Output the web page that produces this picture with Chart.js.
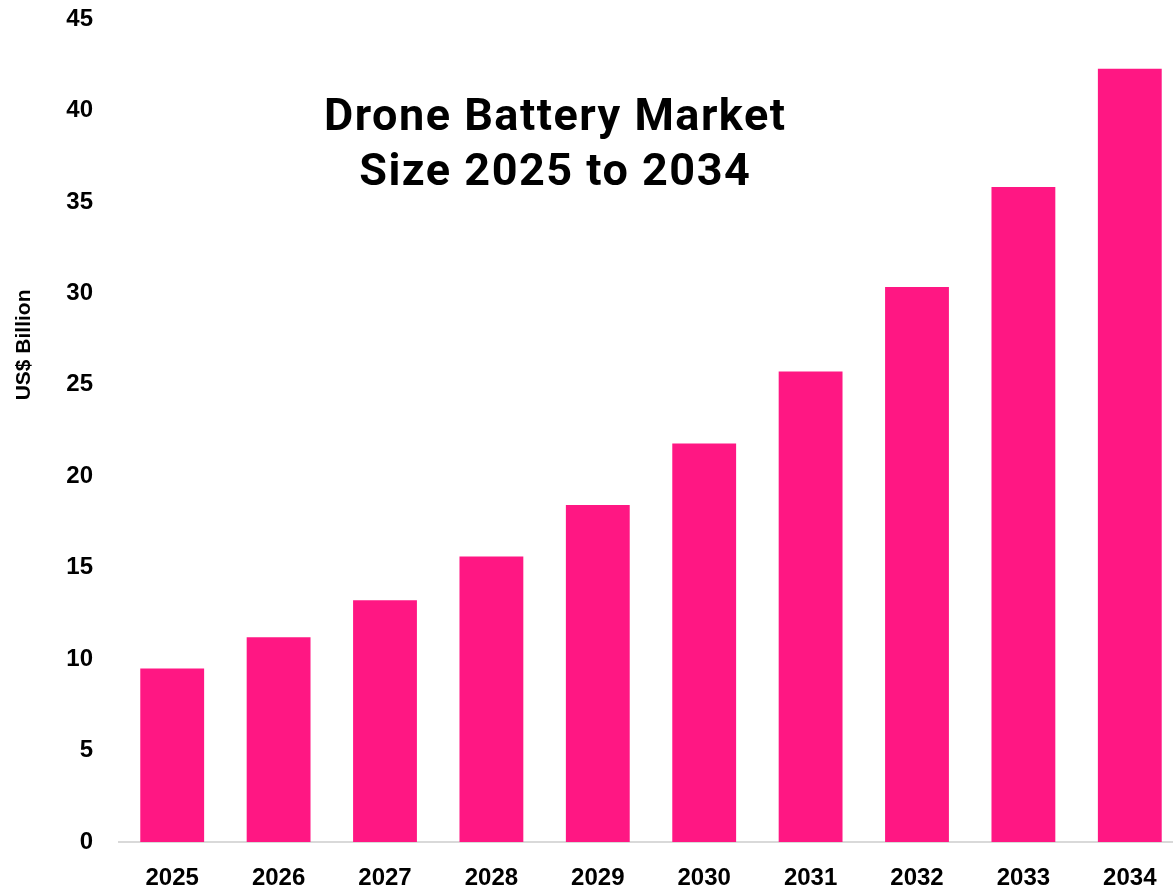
<!DOCTYPE html>
<html>
<head>
<meta charset="utf-8">
<script src="https://cdn.jsdelivr.net/npm/chart.js@4.4.1/dist/chart.umd.min.js"></script>
<style>
  html, body { margin: 0; padding: 0; background: #fff; overflow: hidden; }
  #box { width: 1183px; height: 888px; }
</style>
</head>
<body>
<div id="box"><canvas id="graph"></canvas></div>
<script>
/* ---------- data ---------- */
const years = ["2025", "2026", "2027", "2028", "2029", "2030", "2031", "2032", "2033", "2034"];
const marketSize = [9.49, 11.20, 13.22, 15.61, 18.42, 21.79, 25.72, 30.34, 35.81, 42.28];
const titleLines = ["Drone Battery Market", "Size 2025 to 2034"];
const yTitle = "US$ Billion";

/* ---------- title inside the plot + y axis title ---------- */
const innerTitle = {
    id: "innerTitle",
    afterDraw(chart) {
        const ctx = chart.ctx;
        const area = chart.chartArea;
        const cx = area.left + (area.right - area.left) * 0.41;
        ctx.save();
        ctx.fillStyle = "#000";
        ctx.font = "bold 45px Roboto";
        ctx.letterSpacing = "1.5px";
        ctx.textAlign = "center";
        ctx.textBaseline = "alphabetic";
        for (let i = 0; i < titleLines.length; i++) {
            ctx.fillText(titleLines[i], cx, area.top + 111 + i * 55);
        }
        ctx.restore();

        // y axis title
        ctx.save();
        ctx.fillStyle = "#000";
        ctx.font = "bold 21px 'Liberation Sans'";
        ctx.textAlign = "center";
        ctx.textBaseline = "middle";
        ctx.translate(24, area.top + (area.bottom - area.top) * 0.396);
        ctx.rotate(-Math.PI / 2);
        ctx.fillText(yTitle, 0, 0);
        ctx.restore();
    }
};

const ctx = document.getElementById("graph").getContext("2d");

const config = {
    type: "bar",
    data: {
        labels: years,
        datasets: [{
            data: marketSize,
            backgroundColor: "#FF1783",
            borderWidth: 0,
            categoryPercentage: 1,
            barPercentage: 0.6
        }]
    },
    options: {
        responsive: true,
        maintainAspectRatio: false,
        animation: false,
        layout: { padding: { top: 19, right: 0, bottom: 0, left: 0 } },
        plugins: {
            legend: { display: false },
            tooltip: { enabled: false }
        },
        scales: {
            x: {
                grid: { display: false, drawTicks: false },
                border: { display: true, color: "#d9d9d9", width: 2 },
                ticks: {
                    color: "#000",
                    padding: 22,
                    font: { family: "Liberation Sans", size: 24, weight: "bold" }
                },
                afterFit(scale) { scale.height = 46; }
            },
            y: {
                min: 0,
                max: 45,
                grid: { display: false, drawTicks: false },
                border: { display: false },
                ticks: {
                    stepSize: 5,
                    color: "#000",
                    padding: 26,
                    font: { family: "Liberation Sans", size: 24, weight: "bold" }
                },
                afterFit(scale) {
                    scale.width = 119;
                    scale.paddingTop = 0;
                    scale.paddingBottom = 0;
                }
            }
        }
    },
    plugins: [innerTitle]
};

const myChart = new Chart(ctx, config);
</script>
</body>
</html>
